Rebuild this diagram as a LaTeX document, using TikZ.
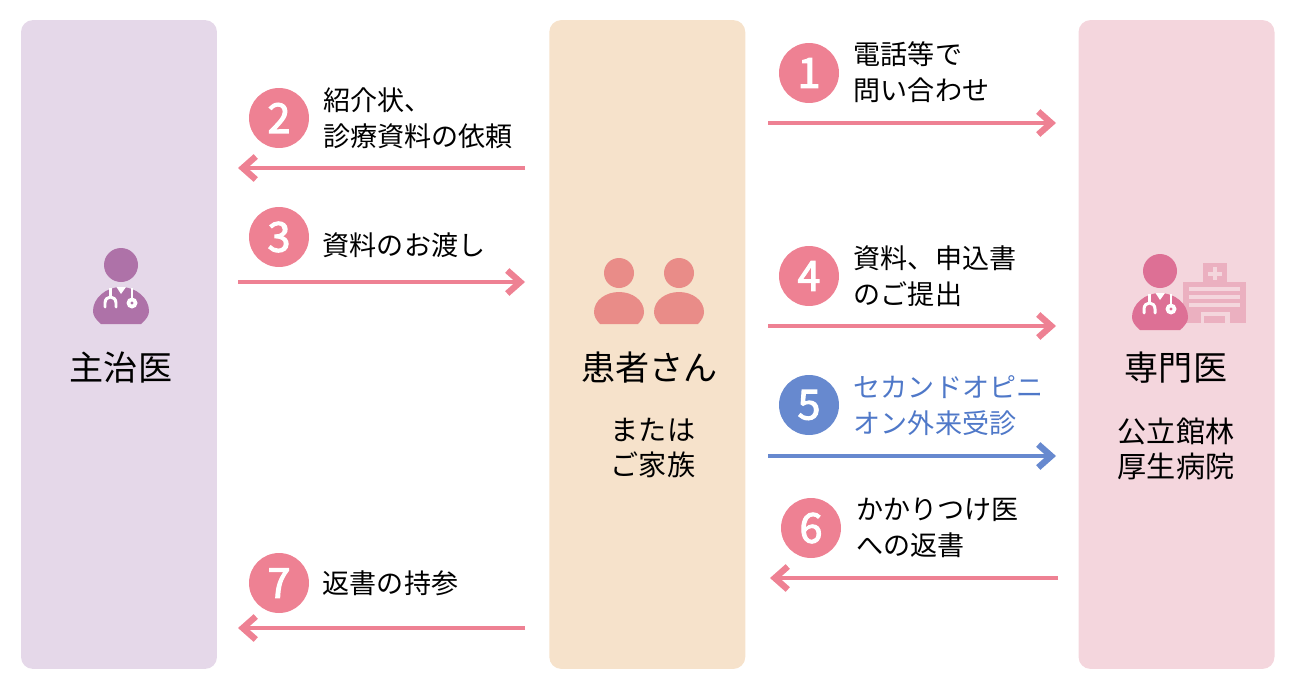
\documentclass[tikz,border=0pt]{standalone}
\usepackage{fontspec}
\setmainfont{Noto Sans CJK JP}
\newfontfamily\numfont[FakeBold=2.6]{Noto Sans CJK JP}
\usetikzlibrary{arrows.meta}

\definecolor{panelpurple}{HTML}{E5D8E9}
\definecolor{panelpeach}{HTML}{F6E2CB}
\definecolor{panelpink}{HTML}{F4D6DD}
\definecolor{markpink}{HTML}{EE8193}
\definecolor{markblue}{HTML}{6789CF}
\definecolor{textblue}{HTML}{4F78C8}
\definecolor{iconpurple}{HTML}{AE72A8}
\definecolor{iconpeach}{HTML}{E98C88}
\definecolor{iconpink}{HTML}{DD7095}
\definecolor{iconhosp}{HTML}{EBB0C0}

% doctor figure: centre x, head y, colour
\newcommand{\doctorfig}[3]{
\begin{scope}[shift={(#1,#2)}]
    \fill[#3] (0,0) circle (17);
    \fill[#3] (-20,59) .. controls (-26,54) and (-28,50) .. (-28,46)
        .. controls (-28,33) and (-15,22) .. (0,22)
        .. controls (15,22) and (28,33) .. (28,46)
        .. controls (28,50) and (26,54) .. (20,59) -- cycle;
    \fill[white] (-4.5,22) -- (5,22) -- (0,29) -- cycle;
    \draw[white, line width=1.7pt, line cap=round] (-16,42) -- (-16,38)
        .. controls (-16,34) and (-13,32) .. (-10.5,32)
        .. controls (-8,32) and (-5,34) .. (-5,38) -- (-5,42);
    \draw[white, line width=1.7pt] (-10.5,32) -- (-10.5,23);
    \draw[white, line width=1.5pt] (11,23) -- (11,36);
    \fill[white] (11,38) circle (5.5);
    \fill[#3] (11,38) circle (1.6);
\end{scope}
}
% patient figure: centre x
\newcommand{\patientfig}[1]{
\begin{scope}[shift={(#1,0)}]
    \fill[iconpeach] (0,273) circle (15);
    \fill[iconpeach] (-19,324) .. controls (-23,320) and (-25,316) .. (-25,312)
        .. controls (-25,300) and (-13,292) .. (0,292)
        .. controls (13,292) and (25,300) .. (25,312)
        .. controls (25,316) and (23,320) .. (19,324) -- cycle;
\end{scope}
}

\begin{document}
\begin{tikzpicture}[
    x=0.02cm, y=-0.02cm,
    panel/.style={rectangle, rounded corners=0.24cm, minimum width=3.92cm, minimum height=12.98cm, inner sep=0pt},
    numdot/.style={circle, minimum size=1.2cm, inner sep=0pt, text=white, font=\fontsize{23.5}{24}\numfont},
    steptext/.style={anchor=west, align=left, inner sep=0pt, font=\fontsize{15.4}{20.5}\selectfont},
    bigtext/.style={anchor=center, align=center, inner sep=0pt, font=\fontsize{19.4}{24}\selectfont},
    subtext/.style={anchor=center, align=center, inner sep=0pt, font=\fontsize{16}{20}\selectfont},
    pinkline/.style={draw=markpink, line width=2.3pt, -{Straight Barb[length=0.26cm,width=0.46cm,line width=3.6pt]}},
    blueline/.style={draw=markblue, line width=2.3pt, -{Straight Barb[length=0.26cm,width=0.46cm,line width=3.6pt]}},
]

\useasboundingbox (0,0) rectangle (1300,693);

% Panels
\node[panel, fill=panelpurple] (doctor) at (119,344.5) {};
\node[panel, fill=panelpeach] (patient) at (647.3,344.5) {};
\node[panel, fill=panelpink] (special) at (1176.5,344.5) {};

% Icons
\doctorfig{121}{265}{iconpurple}
\patientfig{619}
\patientfig{679}
\fill[iconhosp] (1203,263) rectangle (1227,283);
\fill[iconhosp] (1183,282) rectangle (1246,323);
\fill[panelpink] (1212.5,267) rectangle (1217,280);
\fill[panelpink] (1208,271.5) rectangle (1221.5,276);
\foreach \liney in {289,297,305}
    \fill[panelpink] (1189,\liney-2) rectangle (1240,\liney+2);
\fill[panelpink] (1201,312) rectangle (1230,323);
\fill[iconhosp] (1204,316) rectangle (1225,323);
\doctorfig{1160}{271}{iconpink}

% Panel texts
\node[bigtext] (doctorname) at (121,368) {主治医};
\node[bigtext] (patientname) at (649.5,368) {患者さん};
\node[bigtext] (specialname) at (1176,368) {専門医};
\node[subtext] (family) at (653,448) {または\\ご家族};
\node[subtext, font=\fontsize{16.6}{20}\selectfont] (hospital) at (1176,449) {公立館林\\厚生病院};

% Number marks
\node[numdot, fill=markpink] (m1) at (809,73) {1};
\node[numdot, fill=markpink] (m2) at (279,118) {2};
\node[numdot, fill=markpink] (m3) at (279,237) {3};
\node[numdot, fill=markpink] (m4) at (809,276) {4};
\node[numdot, fill=markblue] (m5) at (809,405) {5};
\node[numdot, fill=markpink] (m6) at (811,528) {6};
\node[numdot, fill=markpink] (m7) at (279,583) {7};

% Step texts
\node[steptext] (t1) at (853.5,72.5) {電話等で\\問い合わせ};
\node[steptext] (t2) at (323,118.5) {紹介状、\\診療資料の依頼};
\node[steptext] (t3) at (322.5,245.5) {資料のお渡し};
\node[steptext] (t4) at (853.5,276.5) {資料、申込書\\のご提出};
\node[steptext, text=textblue] (t5) at (853.5,405.5) {セカンドオピニ\\オン外来受診};
\node[steptext] (t6) at (856,527.5) {かかりつけ医\\への返書};
\node[steptext] (t7) at (322.5,583.5) {返書の持参};

% Arrow ends
\coordinate (a1) at (768,123);
\coordinate (b1) at (1056,123);
\coordinate (a2) at (525,168);
\coordinate (b2) at (238,168);
\coordinate (a3) at (238,282);
\coordinate (b3) at (525,282);
\coordinate (a4) at (768,326);
\coordinate (b4) at (1056,326);
\coordinate (a5) at (768,456);
\coordinate (b5) at (1056,456);
\coordinate (a6) at (1058,578);
\coordinate (b6) at (770,578);
\coordinate (a7) at (525,628);
\coordinate (b7) at (238,628);

\foreach \n in {1,2,3,4,6,7}
    \draw[pinkline] (a\n) -- (b\n);
\draw[blueline] (a5) -- (b5);

\end{tikzpicture}
\end{document}
